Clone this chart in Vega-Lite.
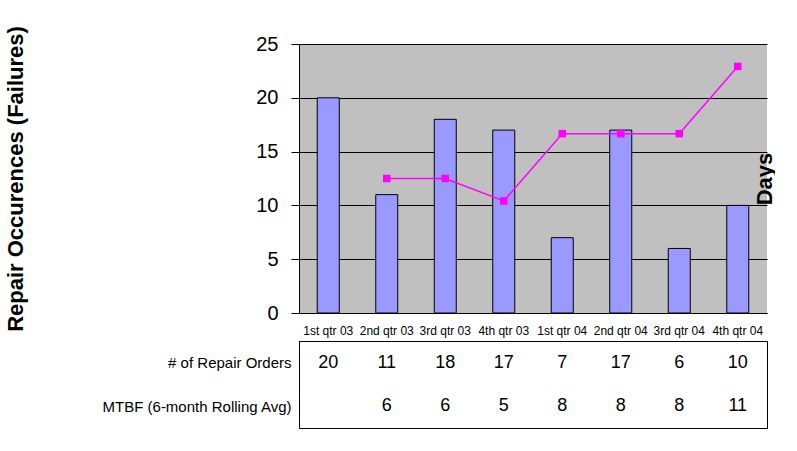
{
  "$schema": "https://vega.github.io/schema/vega-lite/v6.json",
  "background": "white",
  "padding": {"left": 4, "top": 25, "right": 0, "bottom": 0},
  "spacing": 4,
  "config": {
    "font": "Liberation Sans",
    "view": {"stroke": null},
    "axis": {"labelColor": "black", "titleColor": "black", "domainColor": "black", "tickColor": "black", "gridColor": "black"}
  },
  "datasets": {
    "q": [
      {"quarter": "1st qtr 03", "orders": 20, "mtbf": null},
      {"quarter": "2nd qtr 03", "orders": 11, "mtbf": 6},
      {"quarter": "3rd qtr 03", "orders": 18, "mtbf": 6},
      {"quarter": "4th qtr 03", "orders": 17, "mtbf": 5},
      {"quarter": "1st qtr 04", "orders": 7, "mtbf": 8},
      {"quarter": "2nd qtr 04", "orders": 17, "mtbf": 8},
      {"quarter": "3rd qtr 04", "orders": 6, "mtbf": 8},
      {"quarter": "4th qtr 04", "orders": 10, "mtbf": 11}
    ]
  },
  "vconcat": [
    {
      "width": 468,
      "height": 269,
      "view": {"fill": "#C0C0C0", "stroke": null},
      "data": {"name": "q"},
      "encoding": {
        "x": {
          "field": "quarter", "type": "nominal", "sort": null,
          "scale": {"paddingInner": 0, "paddingOuter": 0},
          "axis": {"orient": "bottom", "title": null, "grid": false, "domain": true, "ticks": false, "labelAngle": 0, "labelFontSize": 12, "labelPadding": 12}
        }
      },
      "layer": [
        {
          "mark": {"type": "bar", "size": 22, "stroke": "black", "strokeWidth": 1, "fill": "#9999FF"},
          "encoding": {
            "y": {
              "field": "orders", "type": "quantitative",
              "scale": {"domain": [0, 25]},
              "axis": {
                "orient": "left", "values": [0, 5, 10, 15, 20, 25], "grid": true,
                "title": "Repair Occurences (Failures)", "titleFontSize": 22, "titleFontWeight": "bold", "titlePadding": 228,
                "labelFontSize": 20, "labelPadding": 13, "tickSize": 8
              }
            }
          }
        },
        {
          "encoding": {
            "y": {
              "field": "mtbf", "type": "quantitative",
              "scale": {"domain": [0, 12]},
              "axis": {
                "orient": "right", "values": [0, 2, 4, 6, 8, 10, 12], "grid": false, "labels": false, "domain": false, "ticks": false,
                "title": "Days", "titleFontSize": 22, "titleFontWeight": "bold", "titlePadding": 9, "titleAngle": 270
              }
            }
          },
          "layer": [
            {
              "mark": {"type": "line", "strokeWidth": 1.5, "stroke": "#FF00FF"},
              "encoding": {}
            },
            {
              "mark": {"type": "point", "shape": "square", "size": 56, "filled": true, "fill": "#FF00FF", "opacity": 1},
              "encoding": {}
            }
          ]
        }
      ],
      "resolve": {"scale": {"y": "independent"}}
    },
    {
      "width": 468,
      "height": 87,
      "view": {"stroke": "black"},
      "data": {"name": "q"},
      "encoding": {
        "x": {
          "field": "quarter", "type": "nominal", "sort": null,
          "scale": {"paddingInner": 0, "paddingOuter": 0},
          "axis": null
        }
      },
      "layer": [
        {
          "mark": {"type": "text", "fontSize": 18, "baseline": "middle", "color": "black"},
          "encoding": {
            "y": {
              "datum": "# of Repair Orders", "type": "nominal",
              "scale": {"domain": ["# of Repair Orders", "MTBF (6-month Rolling Avg)"]},
              "axis": {"orient": "left", "title": null, "grid": false, "ticks": false, "domain": true, "labelFontSize": 15, "labelLimit": 260, "labelPadding": 8}
            },
            "text": {"field": "orders", "type": "quantitative"}
          }
        },
        {
          "transform": [{"filter": "datum.mtbf != null"}],
          "mark": {"type": "text", "fontSize": 18, "baseline": "middle", "color": "black"},
          "encoding": {
            "y": {"datum": "MTBF (6-month Rolling Avg)", "type": "nominal"},
            "text": {"field": "mtbf", "type": "quantitative"}
          }
        }
      ]
    }
  ]
}
